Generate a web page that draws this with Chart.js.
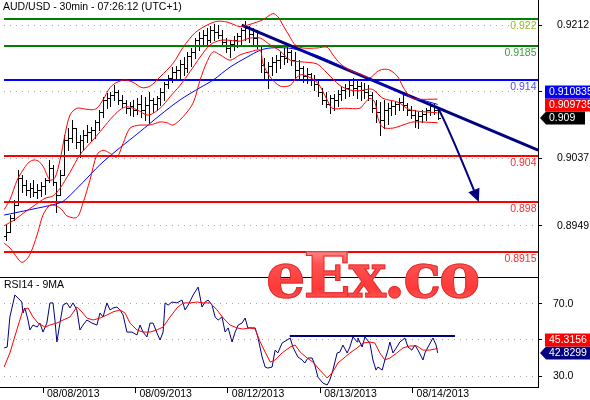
<!DOCTYPE html>
<html>
<head>
<meta charset="utf-8">
<script src="https://cdn.jsdelivr.net/npm/chart.js@4/dist/chart.umd.min.js"></script>
<style>
  html, body { margin: 0; padding: 0; background: #fff; }
  #wrap { position: relative; width: 590px; height: 400px; overflow: hidden; background: #fff; }
  #price { position: absolute; left: 0; top: 0; }
  #rsi { position: absolute; left: 0; top: 278px; }
  #wm {
    position: absolute; left: 266px; top: 245px;
    font: bold 62px 'DejaVu Serif', serif; line-height: 62px; letter-spacing: -2px;
    white-space: nowrap; pointer-events: none;
    background: linear-gradient(180deg, #ffa0a0 0%, #ff5252 30%, #ff3838 70%, #ff6a6a 100%);
    -webkit-background-clip: text; background-clip: text;
    -webkit-text-fill-color: transparent;
    -webkit-text-stroke: 1px #e23030;
  }
</style>
</head>
<body>
<div id="wrap">
  <canvas id="price" width="590" height="278"></canvas>
  <canvas id="rsi" width="590" height="122"></canvas>
  <div id="wm">eEx.co</div>
</div>
<script>
// ---- price bars (one bar per slot) ----
const high = [0.8950,0.8963,0.8983,0.9022,0.9016,0.9009,0.9005,0.9009,0.9004,0.9006,
  0.9012,0.9035,0.9029,0.9006,0.9022,0.9068,0.9077,0.9088,0.9077,0.9068,
  0.9075,0.9081,0.9078,0.9088,0.9101,0.9118,0.9123,0.9124,0.9133,0.9127,
  0.9120,0.9114,0.9111,0.9114,0.9116,0.9120,0.9118,0.9124,0.9116,0.9119,
  0.9130,0.9137,0.9147,0.9157,0.9158,0.9166,0.9170,0.9177,0.9182,0.9195,
  0.9203,0.9206,0.9208,0.9211,0.9213,0.9212,0.9206,0.9195,0.9192,0.9198,
  0.9202,0.9208,0.9217,0.9211,0.9208,0.9206,0.9186,0.9169,0.9164,0.9170,
  0.9173,0.9177,0.9182,0.9186,0.9179,0.9177,0.9166,0.9158,0.9156,0.9149,
  0.9147,0.9140,0.9130,0.9124,0.9120,0.9122,0.9127,0.9132,0.9135,0.9140,
  0.9143,0.9140,0.9137,0.9136,0.9133,0.9124,0.9114,0.9111,0.9114,0.9110,
  0.9114,0.9111,0.9116,0.9120,0.9110,0.9106,0.9101,0.9098,0.9101,0.9103,
  0.9111,0.9109,0.9103];
const low = [0.8930,0.8941,0.8957,0.8976,0.8993,0.8989,0.8987,0.8988,0.8985,0.8988,
  0.8991,0.9006,0.9002,0.8967,0.8989,0.9016,0.9048,0.9059,0.9051,0.9039,
  0.9048,0.9059,0.9061,0.9064,0.9075,0.9092,0.9103,0.9106,0.9114,0.9109,
  0.9105,0.9097,0.9094,0.9093,0.9095,0.9092,0.9088,0.9084,0.9098,0.9101,
  0.9107,0.9114,0.9130,0.9137,0.9140,0.9143,0.9147,0.9151,0.9158,0.9169,
  0.9179,0.9185,0.9187,0.9190,0.9192,0.9195,0.9186,0.9177,0.9170,0.9179,
  0.9183,0.9186,0.9192,0.9190,0.9186,0.9182,0.9151,0.9140,0.9130,0.9147,
  0.9151,0.9156,0.9161,0.9164,0.9160,0.9143,0.9140,0.9137,0.9136,0.9133,
  0.9127,0.9119,0.9109,0.9105,0.9097,0.9101,0.9106,0.9114,0.9116,0.9119,
  0.9120,0.9116,0.9114,0.9116,0.9114,0.9098,0.9085,0.9068,0.9077,0.9082,
  0.9094,0.9095,0.9101,0.9101,0.9094,0.9090,0.9078,0.9077,0.9085,0.9088,
  0.9094,0.9095,0.9089];
const open = [0.8936,0.8941,0.8959,0.8976,0.9012,0.9002,0.8996,0.8998,0.8993,0.8996,
  0.9001,0.9009,0.9025,0.9006,0.8989,0.9016,0.9061,0.9064,0.9077,0.9059,
  0.9061,0.9068,0.9072,0.9075,0.9085,0.9098,0.9114,0.9116,0.9120,0.9124,
  0.9114,0.9110,0.9103,0.9106,0.9101,0.9109,0.9101,0.9107,0.9114,0.9109,
  0.9116,0.9124,0.9135,0.9143,0.9151,0.9153,0.9161,0.9156,0.9171,0.9177,
  0.9192,0.9195,0.9199,0.9192,0.9206,0.9203,0.9199,0.9190,0.9182,0.9187,
  0.9192,0.9198,0.9206,0.9208,0.9200,0.9195,0.9185,0.9160,0.9151,0.9158,
  0.9164,0.9166,0.9171,0.9169,0.9177,0.9166,0.9153,0.9156,0.9145,0.9148,
  0.9140,0.9135,0.9124,0.9114,0.9109,0.9116,0.9114,0.9122,0.9127,0.9130,
  0.9133,0.9130,0.9132,0.9127,0.9124,0.9120,0.9103,0.9098,0.9088,0.9101,
  0.9103,0.9106,0.9109,0.9111,0.9107,0.9101,0.9094,0.9088,0.9093,0.9095,
  0.9101,0.9106,0.9101];
const close = [0.8941,0.8959,0.8976,0.9012,0.9002,0.8996,0.8998,0.8993,0.8996,0.9001,
  0.9009,0.9025,0.9006,0.8989,0.9016,0.9061,0.9064,0.9077,0.9059,0.9061,
  0.9068,0.9072,0.9075,0.9085,0.9098,0.9114,0.9116,0.9120,0.9124,0.9114,
  0.9110,0.9103,0.9106,0.9101,0.9109,0.9101,0.9107,0.9114,0.9109,0.9116,
  0.9124,0.9135,0.9143,0.9151,0.9153,0.9161,0.9156,0.9171,0.9177,0.9192,
  0.9195,0.9199,0.9192,0.9206,0.9203,0.9199,0.9190,0.9182,0.9187,0.9192,
  0.9198,0.9206,0.9208,0.9200,0.9195,0.9185,0.9160,0.9151,0.9158,0.9164,
  0.9166,0.9171,0.9169,0.9177,0.9166,0.9153,0.9156,0.9145,0.9148,0.9140,
  0.9135,0.9124,0.9114,0.9109,0.9116,0.9114,0.9122,0.9127,0.9130,0.9133,
  0.9130,0.9132,0.9127,0.9124,0.9120,0.9103,0.9098,0.9088,0.9101,0.9103,
  0.9106,0.9109,0.9111,0.9107,0.9101,0.9094,0.9088,0.9093,0.9095,0.9101,
  0.9106,0.9101,0.9090];

// ---- overlays: [bar slot, price] ----
const bbUpper = [[-0.6,0.8970],[0.9,0.8983],[2.8,0.9009],[4.3,0.9022],[5.6,0.9031],[6.9,0.9035],[8.2,0.9034],
  [9.5,0.9027],[11.3,0.9009],[12.6,0.9012],[13.9,0.9035],[15.2,0.9068],[16.5,0.9094],[18.3,0.9103],[20.4,0.9102],
  [22.2,0.9101],[23.5,0.9103],[25.1,0.9114],[26.9,0.9130],[28.7,0.9137],[30.8,0.9140],[32.9,0.9137],[35.2,0.9130],
  [37.3,0.9132],[39.9,0.9144],[43.3,0.9162],[45.9,0.9183],[49.0,0.9202],[52.1,0.9212],[54.7,0.9217],[57.3,0.9216],
  [59.4,0.9212],[60.7,0.9210],[63.3,0.9213],[66.6,0.9219],[69.2,0.9227],[70.5,0.9223],[71.8,0.9212],[73.7,0.9196],
  [75.0,0.9186],[77.0,0.9182],[80.7,0.9182],[83.3,0.9183],[84.8,0.9173],[86.6,0.9162],[89.2,0.9153],[91.8,0.9148],
  [94.4,0.9143],[96.3,0.9151],[97.8,0.9154],[99.6,0.9153],[101.7,0.9144],[103.0,0.9131],[104.8,0.9118],[106.1,0.9115],
  [112,0.9115]];
const bbMiddle = [[-0.6,0.8949],[2.2,0.8957],[4.8,0.8967],[7.4,0.8976],[10.0,0.8985],[12.1,0.8988],[13.9,0.8998],
  [16.5,0.9019],[19.1,0.9042],[21.7,0.9057],[24.3,0.9072],[26.9,0.9088],[29.5,0.9101],[31.3,0.9105],[33.9,0.9101],
  [36.8,0.9094],[39.9,0.9103],[42.5,0.9118],[45.1,0.9133],[47.7,0.9151],[50.3,0.9170],[52.9,0.9186],[55.5,0.9192],
  [58.1,0.9192],[60.7,0.9191],[63.3,0.9195],[65.9,0.9195],[68.5,0.9186],[71.1,0.9178],[73.7,0.9166],[76.3,0.9164],
  [80.7,0.9161],[83.3,0.9149],[86.6,0.9133],[89.2,0.9127],[91.8,0.9126],[95.0,0.9128],[97.8,0.9116],[101.7,0.9111],
  [104.8,0.9101],[112,0.9097]];
const bbLower = [[-0.6,0.8926],[0.9,0.8920],[2.8,0.8907],[4.0,0.8901],[5.6,0.8907],[6.9,0.8921],[8.2,0.8941],
  [9.5,0.8963],[11.3,0.8976],[12.9,0.8975],[14.4,0.8970],[15.7,0.8962],[18.3,0.8960],[19.9,0.8979],[21.7,0.9009],
  [23.5,0.9042],[25.1,0.9048],[26.9,0.9044],[28.7,0.9039],[30.3,0.9057],[32.1,0.9077],[34.7,0.9081],[37.3,0.9081],
  [39.9,0.9085],[41.7,0.9084],[43.3,0.9081],[45.9,0.9092],[48.5,0.9110],[50.3,0.9140],[52.1,0.9164],[53.7,0.9177],
  [55.5,0.9173],[58.1,0.9166],[60.7,0.9173],[63.3,0.9177],[65.9,0.9179],[66.6,0.9162],[68.5,0.9144],[71.1,0.9132],
  [73.7,0.9133],[75.5,0.9144],[77.0,0.9147],[80.7,0.9137],[83.3,0.9114],[84.6,0.9103],[87.9,0.9103],[91.8,0.9103],
  [93.1,0.9110],[94.4,0.9116],[95.7,0.9111],[96.5,0.9090],[97.8,0.9078],[100.4,0.9077],[103.0,0.9081],[105.6,0.9085],
  [112,0.9084]];
const maLine = [[-0.6,0.8963],[6.1,0.8970],[13.9,0.8979],[15.7,0.8985],[19.9,0.9006],[24.3,0.9029],[28.7,0.9048],
  [32.9,0.9065],[36.8,0.9081],[39.9,0.9094],[45.1,0.9114],[50.3,0.9130],[53.7,0.9140],[58.1,0.9157],[62.5,0.9170],
  [65.9,0.9179],[68.5,0.9182],[73.1,0.9182],[76.3,0.9179],[80.2,0.9173],[84.0,0.9165],[87.9,0.9156],[91.8,0.9147],
  [96.3,0.9137],[100.2,0.9128],[104.1,0.9119],[107.9,0.9114],[112,0.9108]];
const trendLine = [[61.1,0.9212],[138.1,0.9048]];
const arrowPath = [[112,0.9104],[114.2,0.9085],[122.7,0.8980]]; // start, bend, tip

const levels = [0.922, 0.9185, 0.914, 0.904, 0.898, 0.8915];
const levelColors = ['#008000', '#008000', '#0000ff', '#ff0000', '#ff0000', '#ff0000'];
const levelTextColors = ['#99bb22', '#3c9c3c', '#4a4aff', '#ff2a2a', '#ff2a2a', '#ff2a2a'];

const priceTicks = [0.8949, 0.9037, 0.9125, 0.9212];
const priceTags = [
  { v: 0.910835, bg: '#0000ff' },
  { v: 0.909735, bg: '#ff0000' },
  { v: 0.909, bg: '#000000', pointer: true }
];

// ---- RSI panel: [bar slot, value] ----
const rsi14 = [[-0.6,45.6],[0.2,46.1],[0.9,62.8],[2.2,75.0],[3.0,73.3],[4.0,71.1],[4.3,65.0],[4.8,67.8],[5.6,61.1],
  [6.1,55.6],[6.9,58.3],[8.0,57.2],[8.7,59.4],[9.5,54.4],[10.5,59.4],[11.3,70.6],[12.1,70.6],[12.6,61.1],[13.1,48.9],
  [13.9,59.4],[14.7,69.4],[15.7,70.6],[16.5,67.8],[17.3,70.6],[18.3,66.7],[19.1,55.6],[19.9,58.3],[20.9,61.1],
  [22.2,59.4],[23.5,58.3],[24.3,65.0],[25.1,62.8],[26.1,70.6],[26.9,66.7],[27.7,67.8],[28.7,68.3],[29.5,66.7],
  [30.3,63.9],[31.3,54.4],[32.6,54.4],[33.9,52.8],[34.7,58.3],[35.5,54.4],[36.5,51.7],[37.3,59.4],[38.1,59.4],
  [39.1,53.9],[39.9,50.0],[40.7,54.4],[41.2,70.6],[42.0,69.4],[43.0,71.1],[44.3,70.6],[45.6,72.2],[46.4,66.7],
  [47.2,69.4],[48.5,75.0],[49.8,79.4],[50.8,68.3],[51.6,71.1],[52.4,72.2],[53.4,69.4],[54.2,62.8],[55.0,61.1],
  [56.0,62.8],[56.8,54.4],[57.6,56.7],[58.6,48.9],[59.4,54.4],[60.2,58.3],[61.2,59.4],[62.0,62.2],[62.7,56.7],
  [63.8,56.7],[64.6,56.7],[65.3,51.7],[66.4,40.6],[67.2,35.0],[67.9,34.4],[69.0,35.0],[69.8,44.4],[70.5,42.8],
  [71.6,48.3],[72.9,50.0],[73.7,51.1],[74.4,46.1],[75.7,40.6],[76.8,38.9],[77.5,37.2],[78.3,40.0],[79.4,40.0],
  [80.1,36.1],[80.9,29.4],[82.2,26.1],[83.3,25.0],[84.0,27.8],[84.8,33.3],[85.9,42.8],[86.6,43.3],[87.4,47.2],
  [88.5,42.8],[89.2,46.1],[90.0,51.7],[91.1,48.9],[91.3,51.1],[92.4,46.1],[93.1,51.7],[94.4,48.3],[95.2,38.9],
  [96.0,33.3],[96.5,35.0],[97.6,33.3],[98.3,38.9],[99.1,44.4],[99.6,48.9],[100.4,42.8],[101.4,46.1],[102.2,48.9],
  [103.5,51.1],[104.3,46.1],[105.3,44.4],[106.1,47.2],[106.9,44.4],[108.2,38.9],[108.7,42.8],[109.5,46.1],
  [110.5,50.0],[110.8,51.1],[111.6,47.2],[112,42.83]];
const rsiMa9 = [[-0.6,35.0],[0.9,42.8],[2.7,55.6],[4.3,66.7],[5.6,67.8],[6.9,62.8],[8.2,59.4],[10.0,57.2],[11.3,58.3],
  [13.1,59.4],[14.7,61.1],[16.5,62.8],[18.3,68.3],[19.6,65.6],[20.9,62.2],[22.5,61.1],[24.3,62.2],[26.1,63.9],
  [27.7,65.6],[29.5,66.7],[30.8,65.0],[32.1,59.4],[33.9,55.6],[35.5,54.4],[37.3,54.4],[39.1,55.6],[40.7,57.2],
  [42.5,62.8],[44.3,67.8],[45.9,70.6],[47.7,70.6],[49.5,71.1],[51.1,70.6],[52.9,70.6],[54.7,66.7],[56.3,62.2],
  [58.1,58.3],[59.9,56.7],[61.4,56.1],[63.3,56.7],[64.6,56.1],[65.9,48.9],[67.2,43.3],[68.5,37.8],[69.8,38.9],
  [71.6,42.8],[73.7,46.1],[75.0,47.2],[76.3,43.3],[78.1,40.0],[79.6,37.8],[81.4,33.3],[83.3,28.9],[84.6,31.7],
  [86.1,37.2],[88.0,40.6],[89.2,42.8],[91.1,45.6],[92.6,48.3],[94.4,48.9],[95.7,48.3],[97.0,42.8],[98.3,38.9],
  [99.6,40.0],[101.4,42.8],[103.0,45.6],[104.8,46.7],[106.6,46.7],[108.2,44.4],[110.0,44.4],[112,45.32]];
const rsiResistance = [[73.6,52.2],[116.5,52.2]];
const rsiTicks = [30, 50, 70];
const rsiTags = [
  { v: 45.3156, bg: '#ff0000' },
  { v: 42.8299, bg: '#000080', pointer: true }
];

const dayTicks = [9.5, 33.5, 57.5, 81.5, 105.5];
const dayLabels = ['08/08/2013', '08/09/2013', '08/12/2013', '08/13/2013', '08/14/2013'];

const X_MIN = -0.63, X_MAX = 138.07;
const NAVY = '#000080';
const FONT_FAMILY = "'Liberation Sans', Arial, sans-serif";
Chart.defaults.font.family = FONT_FAMILY;
Chart.defaults.font.size = 10.5;
Chart.defaults.color = '#000';

const xy = pts => pts.map(([x, y]) => ({ x, y }));

function rightAxis(min, max, tickVals, digits, pad) {
  return {
    position: 'right', min, max,
    afterBuildTicks: s => { s.ticks = tickVals.map(v => ({ value: v })); },
    afterFit: s => { s.width = 52; s.paddingTop = 0; s.paddingBottom = 0; },
    ticks: { autoSkip: false, padding: pad, color: '#000', callback: v => Number(v).toFixed(digits) },
    grid: { color: '#a8a8a8', tickLength: 4, tickColor: '#000' },
    border: { display: true, color: '#000', dash: [1, 5] }
  };
}

function drawTags(chart, tags, yScale) {
  const { ctx, chartArea } = chart;
  const items = tags.map(t => ({ ...t, y: yScale.getPixelForValue(t.v) })).sort((a, b) => b.y - a.y);
  for (let k = 1; k < items.length; k++) items[k].y = Math.min(items[k].y, items[k - 1].y - 13);
  ctx.save();
  ctx.font = '10.5px ' + FONT_FAMILY;
  ctx.textBaseline = 'middle';
  ctx.textAlign = 'left';
  items.forEach(t => {
    const x0 = chartArea.right + 2, yc = Math.round(t.y);
    ctx.fillStyle = t.bg;
    ctx.beginPath();
    if (t.pointer) {
      const w = String(t.v).length > 6 ? 52 : 39;
      ctx.moveTo(x0, yc); ctx.lineTo(x0 + 6, yc - 6.5); ctx.lineTo(x0 + 6 + w, yc - 6.5);
      ctx.lineTo(x0 + 6 + w, yc + 6.5); ctx.lineTo(x0 + 6, yc + 6.5); ctx.closePath();
    } else {
      ctx.rect(x0 + 5, yc - 6.5, 60, 13);
    }
    ctx.fill();
    ctx.fillStyle = '#fff';
    ctx.fillText(String(t.v), x0 + 9, yc + 0.5);
  });
  ctx.restore();
}

const pricePanel = {
  id: 'pricePanel',
  beforeDatasetsDraw(chart) {
    const { ctx, chartArea: a, scales: { x, y } } = chart;
    ctx.save();
    ctx.beginPath(); ctx.rect(a.left, a.top, a.width, a.height); ctx.clip();
    // OHLC bars
    ctx.strokeStyle = '#000'; ctx.lineWidth = 1;
    ctx.beginPath();
    close.forEach((c, i) => {
      const px = Math.round(x.getPixelForValue(i)) + 0.5;
      ctx.moveTo(px, Math.round(y.getPixelForValue(high[i])));
      ctx.lineTo(px, Math.round(y.getPixelForValue(low[i])) + 1);
      const po = Math.round(y.getPixelForValue(open[i])) + 0.5;
      ctx.moveTo(px - 2.5, po); ctx.lineTo(px, po);
      const pc = Math.round(y.getPixelForValue(c)) + 0.5;
      ctx.moveTo(px, pc); ctx.lineTo(px + 2.5, pc);
    });
    ctx.stroke();
    // support / resistance levels
    levels.forEach((v, k) => {
      const py = Math.round(y.getPixelForValue(v));
      ctx.fillStyle = levelColors[k];
      ctx.fillRect(a.left, py - 1, a.width, 2);
    });
    ctx.restore();
  },
  afterDatasetsDraw(chart) {
    const { ctx, scales: { x, y } } = chart;
    const [s, c, t] = arrowPath.map(([i, p]) => [x.getPixelForValue(i), y.getPixelForValue(p)]);
    const ang = Math.atan2(t[1] - c[1], t[0] - c[0]);
    const L = 13, W = 6;
    const bx = t[0] - L * Math.cos(ang), by = t[1] - L * Math.sin(ang);
    ctx.save();
    ctx.strokeStyle = NAVY; ctx.fillStyle = NAVY; ctx.lineWidth = 2;
    ctx.beginPath(); ctx.moveTo(s[0], s[1]); ctx.quadraticCurveTo(c[0], c[1], bx, by); ctx.stroke();
    ctx.beginPath();
    ctx.moveTo(t[0], t[1]);
    ctx.lineTo(bx + W * Math.sin(ang), by - W * Math.cos(ang));
    ctx.lineTo(bx - W * Math.sin(ang), by + W * Math.cos(ang));
    ctx.closePath(); ctx.fill();
    ctx.restore();
  },
  afterDraw(chart) {
    const { ctx, chartArea: a, scales: { y } } = chart;
    ctx.save();
    ctx.font = '10.5px ' + FONT_FAMILY;
    ctx.textBaseline = 'middle';
    ctx.textAlign = 'right';
    levels.forEach((v, k) => {
      ctx.fillStyle = levelTextColors[k];
      ctx.fillText(String(v), a.right - 1.5, y.getPixelForValue(v) + 7);
    });
    ctx.textAlign = 'left';
    ctx.fillStyle = '#000';
    ctx.fillText('AUD/USD - 30min - 07:26:12 (UTC+1)', 3, 7);
    ctx.fillRect(0, a.bottom, a.right, 1);
    ctx.restore();
    drawTags(chart, priceTags, y);
  }
};

new Chart(document.getElementById('price'), {
  type: 'line',
  data: {
    datasets: [
      { data: xy(bbUpper), borderColor: '#ff0000', borderWidth: 1, tension: 0.3 },
      { data: xy(bbMiddle), borderColor: '#ff0000', borderWidth: 1, tension: 0.3 },
      { data: xy(bbLower), borderColor: '#ff0000', borderWidth: 1, tension: 0.3 },
      { data: xy(maLine), borderColor: '#0000ff', borderWidth: 1, tension: 0.3 },
      { data: xy(trendLine), borderColor: NAVY, borderWidth: 3, tension: 0 }
    ]
  },
  options: {
    responsive: false,
    animation: false,
    events: [],
    layout: { padding: { left: 4, top: 0, right: 0, bottom: 1 } },
    elements: { point: { radius: 0 } },
    plugins: { legend: { display: false }, tooltip: { enabled: false } },
    scales: {
      x: { type: 'linear', min: X_MIN, max: X_MAX, display: false },
      y: rightAxis(0.88818, 0.92449, priceTicks, 4, 15)
    }
  },
  plugins: [pricePanel]
});

const rsiPanel = {
  id: 'rsiPanel',
  afterDraw(chart) {
    const { ctx, chartArea: a, scales: { x, y } } = chart;
    ctx.save();
    ctx.font = '10.5px ' + FONT_FAMILY;
    ctx.textBaseline = 'middle';
    ctx.textAlign = 'left';
    ctx.fillStyle = '#000';
    ctx.fillText('RSI14 - 9MA', 4, 7);
    dayTicks.forEach((t, k) => ctx.fillText(dayLabels[k], x.getPixelForValue(t) + 4, a.bottom + 7));
    ctx.fillRect(0, a.bottom, a.right, 1);
    ctx.restore();
    drawTags(chart, rsiTags, y);
  }
};

new Chart(document.getElementById('rsi'), {
  type: 'line',
  data: {
    datasets: [
      { data: xy(rsiMa9), borderColor: '#ff0000', borderWidth: 1, tension: 0 },
      { data: xy(rsi14), borderColor: NAVY, borderWidth: 1, tension: 0 },
      { data: xy(rsiResistance), borderColor: NAVY, borderWidth: 2, tension: 0 }
    ]
  },
  options: {
    responsive: false,
    animation: false,
    events: [],
    layout: { padding: { left: 4, top: 0, right: 0, bottom: 0 } },
    elements: { point: { radius: 0 } },
    plugins: { legend: { display: false }, tooltip: { enabled: false } },
    scales: {
      x: {
        type: 'linear', min: X_MIN, max: X_MAX,
        afterBuildTicks: s => { s.ticks = dayTicks.map(v => ({ value: v })); },
        afterFit: s => { s.height = 13; s.paddingLeft = 0; s.paddingRight = 0; },
        ticks: { display: false },
        grid: { drawOnChartArea: false, drawTicks: true, tickLength: 6, tickColor: '#000', color: '#000' },
        border: { display: true, color: '#000' }
      },
      y: rightAxis(23.89, 84.44, rsiTicks, 1, 11)
    }
  },
  plugins: [rsiPanel]
});
</script>
</body>
</html>
